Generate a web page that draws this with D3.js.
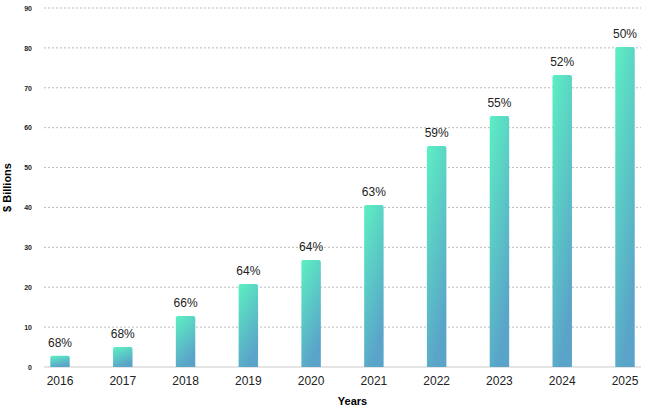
<!DOCTYPE html>
<html><head><meta charset="utf-8">
<script src="https://cdn.jsdelivr.net/npm/d3@7"></script>
<style>body{margin:0;background:#fff;font-family:"Liberation Sans",Arial,sans-serif}</style>
</head><body><div id="chart"></div>
<script>
const years = ['2016','2017','2018','2019','2020','2021','2022','2023','2024','2025']
const values = [2.8, 5.0, 12.8, 20.8, 26.8, 40.6, 55.4, 62.9, 73.2, 80.2]
const shares = ['68%','68%','66%','64%','64%','63%','59%','55%','52%','50%']
const yTicks = [0,10,20,30,40,50,60,70,80,90]

const W = 645, H = 410
const margin = { top: 8, right: 4, bottom: 43, left: 44 }
const innerW = W - margin.left - margin.right
const innerH = H - margin.top - margin.bottom

const svg = d3.select('#chart').append('svg').attr('width', W).attr('height', H)
const defs = svg.append('defs')
const grad = defs.append('linearGradient').attr('id', 'barGrad')
  .attr('x1', '0').attr('y1', '0').attr('x2', '0.4').attr('y2', '1')
grad.append('stop').attr('offset', '0').attr('stop-color', '#5cf0c2')
grad.append('stop').attr('offset', '1').attr('stop-color', '#5aa3c9')

const g = svg.append('g').attr('transform', `translate(${margin.left},${margin.top})`)

const x = d3.scaleBand().domain(years).range([0, innerW]).paddingInner(0.69).paddingOuter(0.1)
const y = d3.scaleLinear().domain([0, 90]).range([innerH, 0])

g.selectAll('.grid').data(yTicks.slice(1)).join('line')
  .attr('x1', 0).attr('x2', innerW)
  .attr('y1', d => y(d)).attr('y2', d => y(d))
  .attr('stroke', '#bbb').attr('stroke-dasharray', '2,2')
g.append('line').attr('x1', 0).attr('x2', innerW).attr('y1', y(0)).attr('y2', y(0))
  .attr('stroke', '#ddd').attr('stroke-width', 1.5)

const yAxis = g.append('g').call(d3.axisLeft(y).tickValues(yTicks).tickSize(0).tickPadding(12))
yAxis.select('.domain').remove()
yAxis.selectAll('text').style('font-size', '7px').style('font-weight', 'bold').attr('fill', '#222')

const xAxis = g.append('g').attr('transform', `translate(0,${innerH})`)
  .call(d3.axisBottom(x).tickSize(0).tickPadding(9))
xAxis.select('.domain').remove()
xAxis.selectAll('text').style('font-size', '12px').attr('fill', '#222')

g.selectAll('.bar').data(values).join('path')
  .attr('d', (d, i) => {
    const x0 = x(years[i]), w = x.bandwidth(), y0 = y(d), r = 2
    return `M${x0},${innerH}V${y0 + r}Q${x0},${y0} ${x0 + r},${y0}H${x0 + w - r}Q${x0 + w},${y0} ${x0 + w},${y0 + r}V${innerH}Z`
  })
  .attr('fill', 'url(#barGrad)')

g.selectAll('.lbl').data(values).join('text')
  .attr('x', (d, i) => x(years[i]) + x.bandwidth() / 2)
  .attr('y', d => y(d) - 9)
  .attr('text-anchor', 'middle').style('font-size', '12px').attr('fill', '#222')
  .text((d, i) => shares[i])

svg.append('text').attr('x', margin.left + innerW / 2 + 10).attr('y', H - 5)
  .attr('text-anchor', 'middle').style('font-size', '11px').style('font-weight', 'bold').text('Years')
svg.append('text').attr('transform', `translate(11,${margin.top + innerH / 2}) rotate(-90)`)
  .attr('text-anchor', 'middle').style('font-size', '11px').style('font-weight', 'bold').text('$ Billions')
</script></body></html>
